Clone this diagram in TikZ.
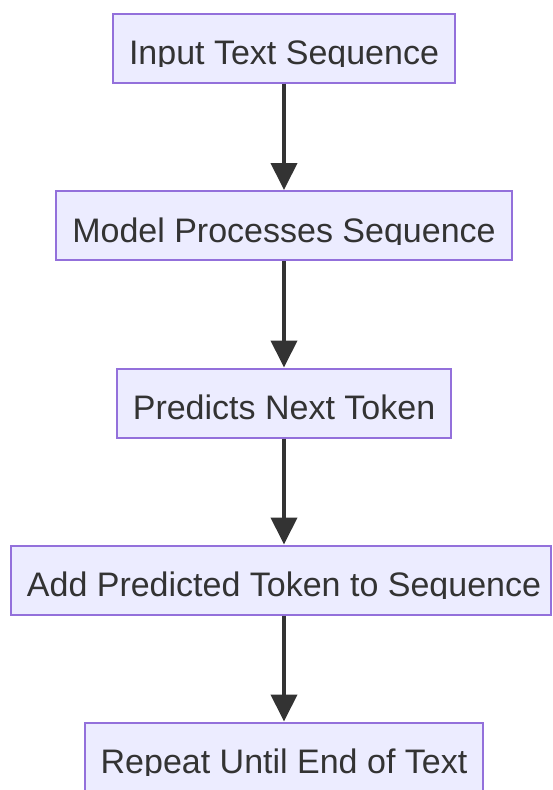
\documentclass[tikz,border=0pt]{standalone}
\usepackage{fontspec}
\setmainfont{Liberation Sans}
\usetikzlibrary{arrows.meta}
\definecolor{boxfill}{HTML}{ECECFF}
\definecolor{boxline}{HTML}{9370DB}
\definecolor{ink}{HTML}{333333}
\tikzset{
  flowbox/.style={draw=boxline, fill=boxfill, line width=2pt, inner sep=0pt, minimum height=69pt},
  flowtext/.style={text=ink, font=\fontsize{34}{40}\selectfont, anchor=base, inner sep=0pt},
  flowarrow/.style={draw=ink, line width=4pt, -{Triangle[length=27pt,width=26pt]}},
}
\newcommand{\cliptext}[4][0pt]{%
  \begin{scope}
    \clip ([xshift=-1pt,yshift=1pt]#2.north west) rectangle ([xshift=1pt,yshift=-54pt]#2.north east);
    \node[flowtext] (#3) at ([xshift=#1,yshift=-52pt]#2.north) {#4};
  \end{scope}}
\begin{document}
\begin{tikzpicture}[x=1pt,y=-1pt]
\useasboundingbox (0,0) rectangle (553,790);
\node[flowbox, minimum width=342pt] (b1) at (284,48) {};
\node[flowbox, minimum width=456pt] (b2) at (284,225.5) {};
\node[flowbox, minimum width=334pt] (b3) at (284,403) {};
\node[flowbox, minimum width=540pt] (b4) at (281,580) {};
\node[flowbox, minimum width=398pt] (b5) at (284,757) {};
\cliptext{b1}{t1}{Input Text Sequence}
\cliptext{b2}{t2}{Model Processes Sequence}
\cliptext{b3}{t3}{Predicts Next Token}
\cliptext[3pt]{b4}{t4}{Add Predicted Token to Sequence}
\cliptext{b5}{t5}{Repeat Until End of Text}
\draw[flowarrow] (b1.south) -- (b2.north);
\draw[flowarrow] (b2.south) -- (b3.north);
\draw[flowarrow] (b3.south) -- (b4.north -| b3.south);
\draw[flowarrow] (b4.south -| b3.south) -- (b5.north);
\end{tikzpicture}
\end{document}
